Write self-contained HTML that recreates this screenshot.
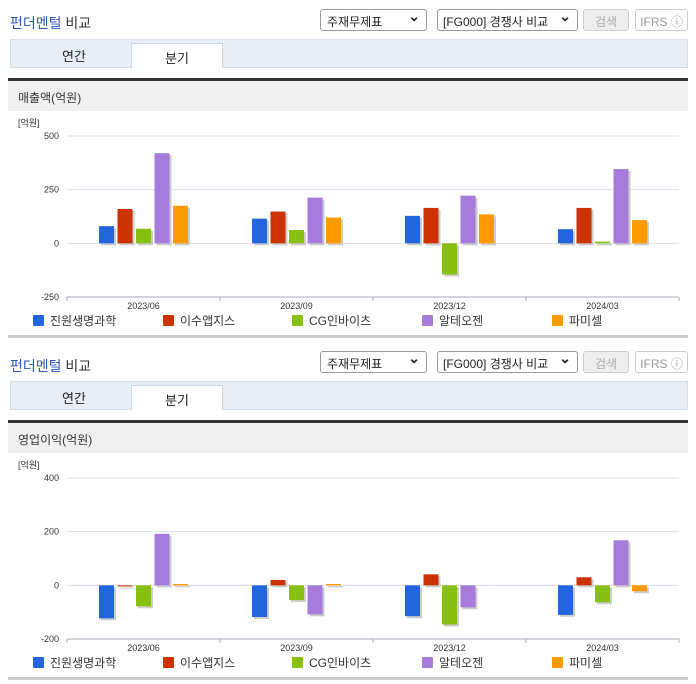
<!DOCTYPE html>
<html><head><meta charset="utf-8">
<style>
body{margin:0;width:696px;height:684px;background:#fff;font-family:"Liberation Sans","Noto Sans CJK KR",sans-serif;position:relative;overflow:hidden}
.abs{position:absolute}
.title{font-size:14px;color:#333;left:10px}
.title b{color:#2b56b8;font-weight:normal}
.sel{height:22px;border:1px solid #999;border-radius:3px;background:#fff;font-size:12px;color:#222;box-sizing:border-box;padding:3px 6px;}
.sel:after{content:"⌄";position:absolute;right:6px;top:-2px;font-size:14px;font-weight:bold}
.btn{height:22px;border:1px solid #ccc;border-radius:3px;box-sizing:border-box;font-size:12px;color:#aaa;text-align:center;padding-top:3px}
.tabs{left:10px;width:678px;height:29px;background:#e8eef7;border:1px solid #d6dee9;box-sizing:border-box}
.tab{font-size:13px;color:#222;text-align:center}
.tabon{background:#fff;border:1px solid #ccd5e2;border-bottom:none;box-sizing:border-box;width:92px;height:25px;padding-top:4px}
.dark{left:8px;width:680px;height:3px;background:#333}
.band{left:8px;width:680px;height:30px;background:#f0f0f0;font-size:12px;color:#333;box-sizing:border-box;padding:8px 10px}
.bottom{left:8px;width:680px;height:3px;background:#ccc}
svg{position:absolute;left:0}
</style></head><body>
<div id="sec1">
<div class="abs title" style="top:13px"><b>펀더멘털</b> 비교</div>
<div class="abs sel" style="left:320px;top:9px;width:107px">주재무제표</div>
<div class="abs sel" style="left:437px;top:9px;width:141px;padding-left:5px">[FG000] 경쟁사 비교</div>
<div class="abs btn" style="left:583px;top:9px;width:46px;background:#eee">검색</div>
<div class="abs btn" style="left:635px;top:9px;width:53px;color:#999">IFRS ⓘ</div>
<div class="abs tabs" style="top:39px"></div>
<div class="abs tab" style="left:44px;top:46px;width:60px">연간</div>
<div class="abs tab tabon" style="left:131px;top:43px">분기</div>
<div class="abs dark" style="top:78px"></div>
<div class="abs band" style="top:81px">매출액(억원)</div>
<div class="abs bottom" style="top:335px"></div>
</div>
<div id="sec2">
<div class="abs title" style="top:356px"><b>펀더멘털</b> 비교</div>
<div class="abs sel" style="left:320px;top:351px;width:107px">주재무제표</div>
<div class="abs sel" style="left:437px;top:351px;width:141px;padding-left:5px">[FG000] 경쟁사 비교</div>
<div class="abs btn" style="left:583px;top:351px;width:46px;background:#eee">검색</div>
<div class="abs btn" style="left:635px;top:351px;width:53px;color:#999">IFRS ⓘ</div>
<div class="abs tabs" style="top:381px"></div>
<div class="abs tab" style="left:44px;top:388px;width:60px">연간</div>
<div class="abs tab tabon" style="left:131px;top:385px">분기</div>
<div class="abs dark" style="top:420px"></div>
<div class="abs band" style="top:423px">영업이익(억원)</div>
<div class="abs bottom" style="top:677px"></div>
</div>
<svg id="c1" width="696" height="684" style="top:0"></svg>
<script>
const categories=["2023/06","2023/09","2023/12","2024/03"];
const seriesNames=["진원생명과학","이수앱지스","CG인바이츠","알테오젠","파미셀"];
const colors=["#2266dd","#cc3300","#88c011","#a77bdb","#ff9900"];
const revJinwon=[80,115,128,66];
const revIsu=[160,148,165,165];
const revCG=[68,62,-145,8];
const revAlteo=[420,213,222,346];
const revPharmi=[175,120,135,108];
const revTicks=[500,250,0,-250];
const opJinwon=[-123,-118,-115,-110];
const opIsu=[-4,20,41,30];
const opCG=[-78,-55,-146,-63];
const opAlteo=[192,-108,-82,168];
const opPharmi=[5,5,0,-22];
const opTicks=[400,200,0,-200];

const NS="http://www.w3.org/2000/svg";
const svg=document.getElementById('c1');
function mk(t,a){const e=document.createElementNS(NS,t);for(const k in a)e.setAttribute(k,a[k]);svg.appendChild(e);return e;}
function draw(off,ticks,series){
  const x0=67,x1=679,yTop=136+off,yBot=297+off;
  const vmax=ticks[0],vmin=ticks[ticks.length-1];
  const y=v=>yTop+(vmax-v)/(vmax-vmin)*(yBot-yTop);
  const bw=(x1-x0)/categories.length;
  const t=mk('text',{x:18,y:126+off,'font-size':9,fill:'#333'});t.textContent='[억원]';
  
  
  ticks.forEach(v=>{
    if(v!==vmin){const l=mk('line',{x1:x0,x2:x1,y1:y(v),y2:y(v),stroke:'#dde',"stroke-width":1});
    
    }
    const tx=mk('text',{x:59,y:y(v)+3,'font-size':9,fill:'#333','text-anchor':'end'});tx.textContent=v;
    
    
  });
  const ax=mk('line',{x1:x0,x2:x1,y1:yBot,y2:yBot,stroke:'#aab',"stroke-width":1});
  
  
  for(let i=0;i<=categories.length;i++){const tk=mk('line',{x1:x0+i*bw,x2:x0+i*bw,y1:yBot,y2:yBot+4,stroke:'#aab'});
    
    }
  categories.forEach((c,i)=>{
    const cx=x0+bw*(i+0.5);
    const tx=mk('text',{x:cx,y:yBot+12,'font-size':9,fill:'#333','text-anchor':'middle'});tx.textContent=c;
    
    
    series.forEach((s,j)=>{
      const v=s[i];const bx=cx+(j-2)*18.5-7.5;
      const ya=Math.min(y(v),y(0)),h=Math.max(Math.abs(y(v)-y(0)),0.01);
      const sh=mk('rect',{x:bx+2,y:ya+2,width:15,height:h,fill:'#ccc'});
      
      
      const r=mk('rect',{x:bx,y:ya,width:15,height:h,fill:colors[j]});
      
      
    });
  });
  const lx=[33,163,292,422,552];
  seriesNames.forEach((n,j)=>{
    const r=mk('rect',{x:lx[j],y:315+off,width:11,height:11,fill:colors[j],rx:1});
    
    
    const tx=mk('text',{x:lx[j]+17,y:325+off,'font-size':12,fill:'#333'});tx.textContent=n;
    
    
  });
}
draw(0,revTicks,[revJinwon,revIsu,revCG,revAlteo,revPharmi]);
draw(342,opTicks,[opJinwon,opIsu,opCG,opAlteo,opPharmi]);
</script>
</body></html>
